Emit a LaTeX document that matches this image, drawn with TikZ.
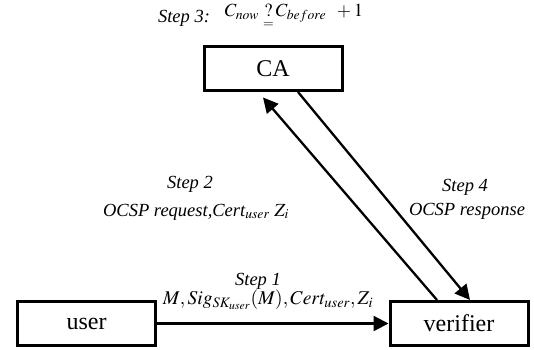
\documentclass[tikz,border=0pt]{standalone}
\usepackage{amsmath}
\usepackage{mathptmx}
\usepackage[no-math]{fontspec}
\setmainfont{Liberation Serif}
\usetikzlibrary{arrows.meta}
\tikzset{party/.style={draw, line width=3pt, minimum width=138pt, minimum height=44pt, inner sep=0pt, font=\fontsize{24}{26}\selectfont},
steplabel/.style={font=\fontsize{18.5}{20}\selectfont\itshape, inner sep=0pt},
msg/.style={line width=2.3pt, -{Triangle[length=15pt,width=15pt]}}}

\begin{document}
\begin{tikzpicture}[x=1pt,y=1pt]
\useasboundingbox (0,0) rectangle (534,349);
\node[party] (user) at (86.5,25.5) {user};
\node[party] (verifier) at (459,25.5) {verifier};
\node[party] (CA) at (273,280.5) {CA};
% messages
\draw[msg] (user.east) -- (verifier.west);
\draw[msg] ([xshift=-22pt]verifier.north) -- ([xshift=-10pt,yshift=-5.5pt]CA.south);
\draw[msg] ([xshift=25pt]CA.south) -- ([xshift=11pt]verifier.north);
% labels
\node[steplabel] (s3) at (184,331) {Step 3:};
\node[steplabel] (check) at (294,332) {$C_{now}\;\underset{=}{?}\,C_{before}\;\;+1$};
\node[steplabel] (s2) at (190,165) {Step 2};
\node[steplabel] (req) at (196,137) {OCSP request,Cert$_{user}$ $Z_i$};
\node[steplabel] (s4) at (465,162) {Step 4};
\node[steplabel] (resp) at (467,138) {OCSP response};
\node[steplabel] (s1) at (258,68) {Step 1};
\node[steplabel, font=\fontsize{19.5}{22}\selectfont] (m1) at (268,49) {$M,Sig_{SK_{user}}(M),Cert_{user},Z_i$};
\end{tikzpicture}
\end{document}
